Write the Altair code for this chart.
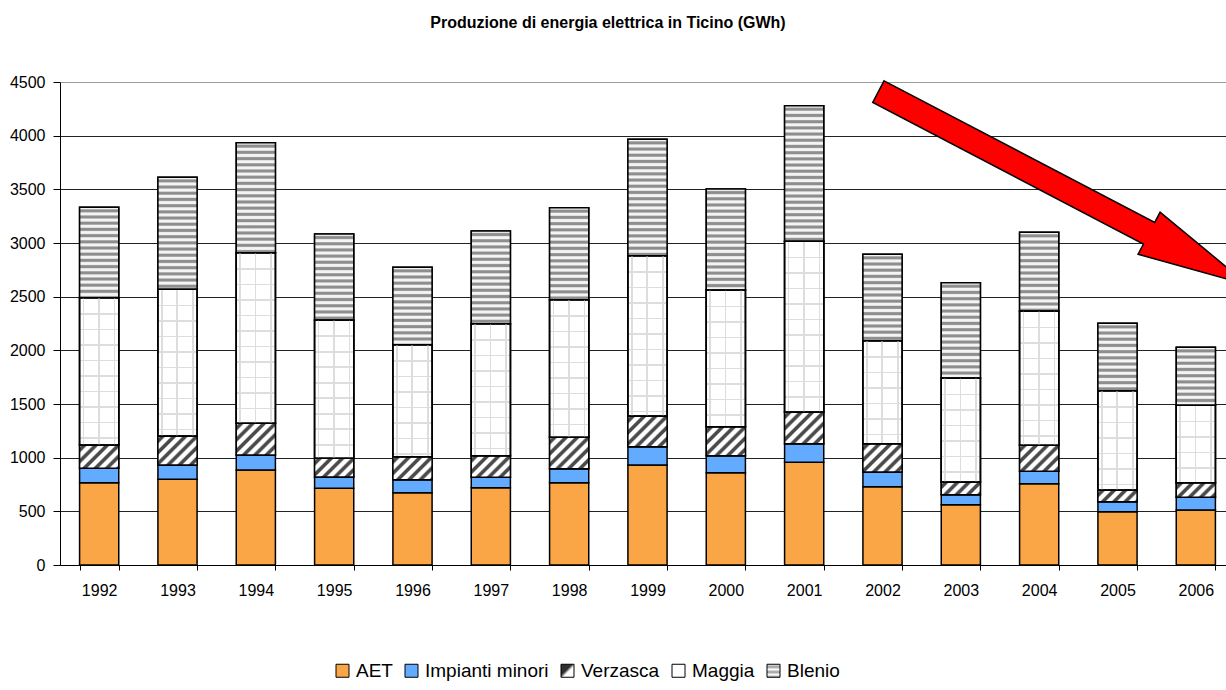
import json
import math

import altair as alt
import pandas as pd

# --- data (GWh) -------------------------------------------------------------
years = [str(y) for y in range(1992, 2007)]
series = ["AET", "Impianti minori", "Verzasca", "Maggia", "Blenio"]

aet = [767, 798, 885, 714, 674, 720, 767, 932, 860, 957, 730, 562, 757, 497, 512]
impianti = [134, 134, 140, 106, 121, 97, 130, 170, 159, 173, 136, 93, 116, 93, 119]
verzasca = [217, 270, 295, 174, 214, 202, 293, 286, 270, 295, 264, 118, 242, 109, 136]
maggia = [1372, 1367, 1590, 1289, 1044, 1229, 1282, 1494, 1273, 1591, 960, 969, 1251, 925, 721]
blenio = [843, 1043, 1025, 801, 721, 864, 857, 1084, 941, 1263, 805, 888, 734, 628, 540]

y_ticks = [0, 500, 1000, 1500, 2000, 2500, 3000, 3500, 4000, 4500]

# trend arrow anchor (in data space)
arrow_year = ["2004"]
arrow_value = [3510]

# --- layout -----------------------------------------------------------------
PLOT_W = 1166
PLOT_H = 483
X_RANGE = 1175
Y_MAX = 4500
PX_PER_GWH = PLOT_H / Y_MAX
BAR_W = X_RANGE / len(years) * 0.5
FONT = "Liberation Sans"

ORANGE = "#fba646"
BLUE = "#62abff"


# --- fill patterns built as SVG linear gradients ----------------------------
def stop(offset, color):
    return {"offset": round(min(max(offset, 0.0), 1.0), 4), "color": color}


def stripes(h, period=6.2, light="#f4f4f4", dark="#8e8e8e"):
    """Horizontal grey stripes with a constant pixel period."""
    stops = [stop(0, light)]
    n = int(math.ceil(h / period))
    for i in range(n):
        b = i * period
        for frac, col in [(0.22, light), (0.42, dark), (0.72, dark), (0.92, light)]:
            stops.append(stop((b + frac * period) / h, col))
    stops.append(stop(1, light))
    return {"gradient": "linear", "x1": 0, "y1": 0, "x2": 0, "y2": 1, "stops": stops}


def grid_rows(h, period=15.5, line=1.6, bg="#ffffff", col="#dddddd"):
    """Light horizontal grid lines of the check pattern."""
    stops = [stop(0, bg)]
    p = period
    while p < h - 1:
        stops += [stop(p / h, bg), stop(p / h, col),
                  stop((p + line) / h, col), stop((p + line) / h, bg)]
        p += period
    stops.append(stop(1, bg))
    return {"gradient": "linear", "x1": 0, "y1": 0, "x2": 0, "y2": 1, "stops": stops}


def grid_cols(w=BAR_W, xs=(3.0, 18.5, 34.0), line=1.6, col="#dddddd"):
    """Light vertical grid lines, transparent in between."""
    clear = "rgba(255,255,255,0)"
    stops = [stop(0, clear)]
    for x in xs:
        stops += [stop(x / w, clear), stop(x / w, col),
                  stop((x + line) / w, col), stop((x + line) / w, clear)]
    stops.append(stop(1, clear))
    return {"gradient": "linear", "x1": 0, "y1": 0, "x2": 1, "y2": 0, "stops": stops}


def hatch(h, w=BAR_W, period=8.0, light="#ffffff", dark="#4a4a4a"):
    """45-degree '/' hatching whose spacing does not depend on the box shape."""
    s = (w + h) / (w * w + h * h)
    span = (w + h) / math.sqrt(2)
    n = max(span / period, 1.0)
    stops = [stop(0, light)]
    for i in range(int(math.ceil(n))):
        b = i / n
        for frac, col in [(0.15, light), (0.32, dark), (0.6, dark), (0.77, light)]:
            stops.append(stop(b + frac / n, col))
    stops.append(stop(1, light))
    return {"gradient": "linear", "x1": 0, "y1": 0,
            "x2": round(w * s, 4), "y2": round(h * s, 4), "stops": stops}


# --- long table with explicit stacking --------------------------------------
rows = []
for i, yr in enumerate(years):
    base = 0
    for name, vals in zip(series, [aet, impianti, verzasca, maggia, blenio]):
        v = vals[i]
        h = v * PX_PER_GWH
        if name == "Verzasca":
            pattern = hatch(h)
        elif name == "Maggia":
            pattern = grid_rows(h)
        elif name == "Blenio":
            pattern = stripes(h)
        else:
            pattern = None
        rows.append({"anno": yr, "serie": name, "valore": v,
                     "y0": base, "y1": base + v, "pattern": pattern})
        base += v

all_rows = [{k: r[k] for k in ("anno", "serie", "valore", "y0", "y1")} for r in rows]
pattern_rows = [r for r in rows if r["pattern"] is not None]
maggia_rows = [{k: r[k] for k in ("anno", "serie", "valore", "y0", "y1")}
               for r in rows if r["serie"] == "Maggia"]

# legend swatches for the patterned series
legend_hatch = {"gradient": "linear", "x1": 0, "y1": 0, "x2": 1, "y2": 1,
                "stops": [stop(0, "#303030"), stop(0.42, "#303030"),
                          stop(0.58, "#ffffff"), stop(1, "#ffffff")]}
legend_stripes = {"gradient": "linear", "x1": 0, "y1": 0, "x2": 0, "y2": 1,
                  "stops": [stop(0, "#ffffff"), stop(0.2, "#999999"), stop(0.4, "#ffffff"),
                            stop(0.6, "#999999"), stop(0.8, "#ffffff"), stop(1, "#999999")]}

fill_range = [ORANGE, BLUE, {"expr": json.dumps(legend_hatch)}, "#ffffff",
              {"expr": json.dumps(legend_stripes)}]

x_enc = alt.X(
    "anno:N",
    title=None,
    sort=years,
    scale=alt.Scale(range=[0, X_RANGE], paddingInner=0.5, paddingOuter=0.25),
    axis=alt.Axis(labelAngle=0, tickBand="extent", tickSize=5, labelPadding=12,
                  domainColor="#000000", tickColor="#000000", grid=False),
)
y_enc = alt.Y(
    "y0:Q",
    title=None,
    scale=alt.Scale(domain=[0, Y_MAX], nice=False),
    axis=alt.Axis(values=y_ticks, format="d", tickSize=7, labelPadding=8, grid=True,
                  gridColor={"condition": {"test": "datum.value === 4500", "value": "#9c9c9c"},
                             "value": "#222222"},
                  gridWidth=1, domainColor="#000000", tickColor="#000000"),
)

base_bars = alt.Chart(alt.Data(values=all_rows)).mark_bar(
    stroke="#000000", strokeWidth=1.5
).encode(
    x=x_enc,
    y=y_enc,
    y2="y1:Q",
    fill=alt.Fill(
        "serie:N",
        scale=alt.Scale(domain=series, range=fill_range),
        legend=alt.Legend(
            title=None, orient="none", direction="horizontal", columns=5,
            legendX=273, legendY=579, symbolType="square", symbolSize=169,
            symbolStrokeColor="#000000", symbolStrokeWidth=1,
            labelFontSize=19, labelFont=FONT, labelColor="#000000",
            labelOffset=4, columnPadding=9, labelLimit=300,
        ),
    ),
)

pattern_bars = alt.Chart(alt.Data(values=pattern_rows)).mark_bar(
    stroke="#000000", strokeWidth=1.5
).encode(
    x=alt.X("anno:N", sort=years),
    y="y0:Q",
    y2="y1:Q",
    fill=alt.Fill("pattern:N", scale=None, legend=None),
)

maggia_cols = alt.Chart(alt.Data(values=maggia_rows)).mark_bar(
    stroke="#000000", strokeWidth=1.5, fill=grid_cols()
).encode(
    x=alt.X("anno:N", sort=years),
    y="y0:Q",
    y2="y1:Q",
)

arrow_path = ("M -1 -0.0585 L 0.465 -0.0585 L 0.465 -0.114 L 1 0 "
              "L 0.465 0.114 L 0.465 0.0585 L -1 0.0585 Z")
arrow = alt.Chart(
    pd.DataFrame({"anno": arrow_year, "valore": arrow_value})
).mark_point(
    shape=arrow_path, size=417 ** 2, angle=27.6, filled=True,
    fill="#ff0000", stroke="#000000", strokeWidth=1.5, opacity=1, xOffset=24,
).encode(
    x=alt.X("anno:N", sort=years),
    y="valore:Q",
)

chart = alt.layer(base_bars, pattern_bars, maggia_cols, arrow).properties(
    width=PLOT_W,
    height=PLOT_H,
    autosize=alt.AutoSizeParams(type="none"),
    padding={"left": 60, "top": 82, "right": 0, "bottom": 125},
    title=alt.Title(
        "Produzione di energia elettrica in Ticino (GWh)",
        font=FONT, fontSize=16, fontWeight="bold", color="#000000",
        anchor="middle", dx=-35, offset=30, baseline="alphabetic",
    ),
).configure(
    font=FONT,
    background="#ffffff",
).configure_view(
    stroke=None,
).configure_axis(
    labelFont=FONT, labelFontSize=16, labelColor="#000000",
)

chart.save("out.html", embed_options={"renderer": "svg", "actions": False})
